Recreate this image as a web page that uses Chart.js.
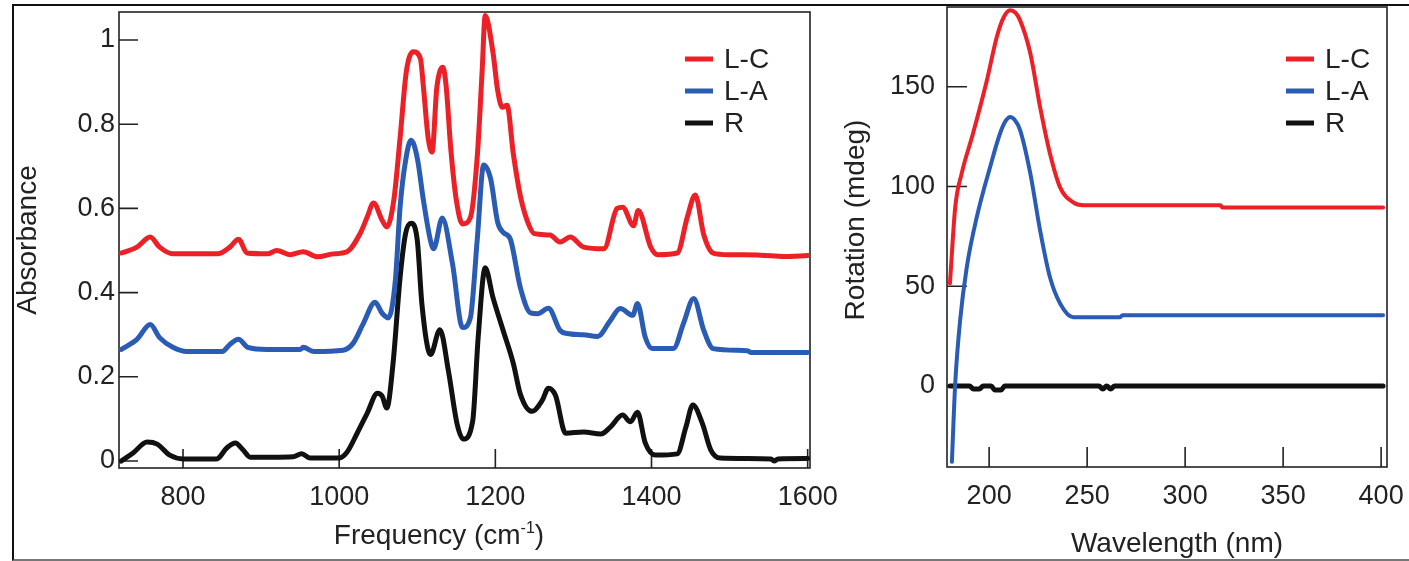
<!DOCTYPE html>
<html>
<head>
<meta charset="utf-8">
<script src="https://cdn.jsdelivr.net/npm/chart.js@4.4.1/dist/chart.umd.min.js"></script>
<style>
  html, body { margin: 0; padding: 0; background: #fff; }
  #page { position: relative; width: 1409px; height: 561px; overflow: hidden; }
  #frame { position: absolute; left: 12px; top: 4px; width: 1395px; height: 553px;
           border-top: 2px solid #111; border-left: 2px solid #111; border-bottom: 2px solid #777; }
  canvas { position: absolute; top: 0; }
  #ftir { left: 0; }
  #cd { left: 820px; }
</style>
</head>
<body>
<div id="page">
  <div id="frame"></div>
  <canvas id="ftir" width="860" height="561"></canvas>
  <canvas id="cd" width="589" height="561"></canvas>
</div>
<script>
// ---- left panel: absorbance spectra ----
const lcFreq = [721, 741, 758, 770, 787, 844, 860, 871, 882, 908, 920, 937, 954, 972, 992, 1010, 1027, 1036, 1044, 1055,
  1061, 1070, 1078, 1086, 1095, 1104, 1108, 1114, 1119, 1125, 1133, 1137, 1143, 1150, 1158, 1168, 1177, 1183, 1187, 1197,
  1203, 1209, 1215, 1223, 1232, 1241, 1250, 1270, 1283, 1296, 1313, 1339, 1356, 1363, 1377, 1383, 1399, 1408, 1433, 1446,
  1456, 1467, 1479, 1500, 1540, 1570, 1600];
const lcAbs = [0.494, 0.508, 0.532, 0.508, 0.492, 0.492, 0.508, 0.527, 0.494, 0.492, 0.5, 0.49, 0.497, 0.485, 0.492, 0.497, 0.541, 0.58, 0.613, 0.572,
  0.556, 0.62, 0.767, 0.925, 0.972, 0.956, 0.886, 0.767, 0.734, 0.886, 0.935, 0.89, 0.74, 0.62, 0.563, 0.578, 0.727, 0.923, 1.058, 0.97,
  0.88, 0.84, 0.845, 0.73, 0.63, 0.57, 0.54, 0.537, 0.52, 0.532, 0.508, 0.504, 0.6, 0.603, 0.559, 0.595, 0.508, 0.49, 0.494, 0.58,
  0.632, 0.537, 0.494, 0.49, 0.489, 0.486, 0.488];

const laFreq = [721, 741, 758, 770, 787, 805, 850, 860, 871, 883, 908, 950, 954, 967, 1005, 1018, 1031, 1046, 1055, 1063,
  1072, 1078, 1085, 1092, 1100, 1108, 1117, 1121, 1132, 1145, 1158, 1168, 1177, 1185, 1194, 1203, 1210, 1219, 1232, 1245,
  1254, 1268, 1283, 1292, 1313, 1331, 1347, 1360, 1376, 1382, 1392, 1401, 1428, 1441, 1454, 1467, 1479, 1523, 1527, 1600];
const laAbs = [0.265, 0.289, 0.324, 0.293, 0.27, 0.26, 0.26, 0.277, 0.289, 0.27, 0.265, 0.265, 0.27, 0.26, 0.263, 0.28, 0.327, 0.377, 0.351, 0.34,
  0.43, 0.603, 0.713, 0.762, 0.72, 0.618, 0.523, 0.504, 0.577, 0.47, 0.317, 0.34, 0.53, 0.703, 0.67, 0.567, 0.543, 0.528, 0.412, 0.352,
  0.35, 0.363, 0.31, 0.303, 0.3, 0.296, 0.333, 0.362, 0.346, 0.374, 0.294, 0.267, 0.267, 0.327, 0.386, 0.31, 0.267, 0.262, 0.258, 0.258];

const rFreq = [721, 736, 754, 767, 783, 800, 843, 856, 867, 877, 886, 915, 941, 952, 963, 999, 1010, 1023, 1036, 1049,
  1055, 1061, 1069, 1078, 1085, 1092, 1100, 1106, 1117, 1129, 1140, 1151, 1159, 1171, 1178, 1187, 1197, 1210, 1223, 1232,
  1247, 1260, 1268, 1277, 1290, 1313, 1335, 1347, 1363, 1373, 1382, 1392, 1405, 1433, 1444, 1453, 1465, 1476, 1488, 1553,
  1557, 1562, 1600];
const rAbs = [0, 0.019, 0.045, 0.04, 0.014, 0.005, 0.005, 0.031, 0.043, 0.026, 0.009, 0.009, 0.01, 0.017, 0.007, 0.007, 0.021, 0.066, 0.114, 0.161,
  0.154, 0.126, 0.232, 0.436, 0.54, 0.565, 0.525, 0.372, 0.253, 0.312, 0.213, 0.088, 0.052, 0.095, 0.293, 0.459, 0.388, 0.31, 0.232, 0.159,
  0.118, 0.144, 0.173, 0.156, 0.066, 0.069, 0.064, 0.08, 0.109, 0.093, 0.116, 0.043, 0.014, 0.017, 0.08, 0.133, 0.09, 0.026, 0.007, 0.005,
  0, 0.005, 0.006];

const freqTicks = [800, 1000, 1200, 1400, 1600];
const absTicks = [0, 0.2, 0.4, 0.6, 0.8, 1];

// ---- right panel: optical rotation ----
const lcWave = [180, 182.7, 186, 191.8, 198.8, 203.9, 207.5, 210.7, 213.5, 215.8, 221, 226, 231, 236.2, 242.9, 248, 318, 319, 401];
const lcRot = [51.5, 89.6, 106.6, 126.7, 153, 175, 185, 188.4, 187, 183.3, 166.8, 139.8, 116.7, 99.6, 92, 90.6, 90.6, 89.5, 89.5];

const laWave = [181, 182.7, 185.2, 188.6, 193.7, 200.5, 205.6, 208.5, 210.7, 213, 215.8, 221, 226, 231, 236.2, 242.9, 266.8, 268, 401];
const laRot = [-38, 1.3, 33, 59.6, 84.7, 109.8, 126.7, 133, 134.9, 133.5, 128.3, 106.6, 78, 54.6, 41.4, 34.5, 34.5, 35.5, 35.5];

const rWave = [180, 190, 192, 195, 197, 201, 203, 206, 208, 256, 258, 260, 262, 264, 401];
const rRot = [0, 0, -1.5, -1.5, 0, 0, -2, -2, 0, 0, -1.5, 0, -1.5, 0, 0];

const waveTicks = [200, 250, 300, 350, 400];
const rotTicks = [0, 50, 100, 150];

const RED = '#ec2027';
const BLUE = '#2a5cb4';
const BLACK = '#111111';
const TEXT = '#222222';
const FONT = '"Liberation Sans", Arial, sans-serif';

function toPoints(xs, ys) {
  return xs.map((x, i) => ({ x: x, y: ys[i] }));
}

// box, inward ticks, legend and axis titles
const panelDecor = {
  id: 'panelDecor',
  beforeDatasetsDraw(chart, args, opts) {
    const { ctx, chartArea: a } = chart;
    const xs = chart.scales.x, ys = chart.scales.y;
    ctx.save();
    ctx.strokeStyle = '#222';
    ctx.lineWidth = 1.6;
    ctx.strokeRect(a.left, a.top, a.right - a.left, a.bottom - a.top);
    ctx.beginPath();
    xs.ticks.forEach(t => {
      const p = xs.getPixelForValue(t.value);
      ctx.moveTo(p, a.bottom);
      ctx.lineTo(p, a.bottom - opts.tickLen);
    });
    ys.ticks.forEach(t => {
      const p = ys.getPixelForValue(t.value);
      ctx.moveTo(a.left, p);
      ctx.lineTo(a.left + opts.tickLen, p);
    });
    ctx.stroke();
    ctx.restore();
  },
  afterDraw(chart, args, opts) {
    const ctx = chart.ctx;
    const mainFont = '28px ' + FONT;
    const supFont = '16px ' + FONT;
    ctx.save();
    ctx.fillStyle = TEXT;
    ctx.font = mainFont;

    // legend
    const lg = opts.legend;
    ctx.textBaseline = 'middle';
    ctx.textAlign = 'left';
    chart.data.datasets.forEach((ds, i) => {
      const y = lg.y + i * lg.step;
      ctx.strokeStyle = ds.borderColor;
      ctx.lineWidth = 5;
      ctx.beginPath();
      ctx.moveTo(lg.x, y);
      ctx.lineTo(lg.x + 28, y);
      ctx.stroke();
      ctx.fillText(ds.label, lg.x + 39, y + 1);
    });

    // x title (with optional superscript part)
    const xt = opts.xTitle;
    ctx.textBaseline = 'alphabetic';
    let total = 0;
    xt.parts.forEach(p => {
      ctx.font = p.sup ? supFont : mainFont;
      total += ctx.measureText(p.text).width;
    });
    let cx = xt.x - total / 2;
    xt.parts.forEach(p => {
      ctx.font = p.sup ? supFont : mainFont;
      ctx.fillText(p.text, cx, p.sup ? xt.y - 11 : xt.y);
      cx += ctx.measureText(p.text).width;
    });

    // y title
    const yt = opts.yTitle;
    ctx.font = mainFont;
    ctx.translate(yt.x, yt.y);
    ctx.rotate(-Math.PI / 2);
    ctx.textAlign = 'center';
    ctx.fillText(yt.text, 0, 0);
    ctx.restore();
  }
};

function axisOpts(min, max, tickValues, padding, size, horizontal) {
  return {
    type: 'linear',
    min: min,
    max: max,
    grid: { display: false, drawTicks: false },
    border: { display: false },
    ticks: {
      color: TEXT,
      font: { family: FONT, size: 27 },
      padding: padding,
      autoSkip: false,
      maxRotation: 0,
      callback: v => String(v)
    },
    afterBuildTicks: s => { s.ticks = tickValues.map(v => ({ value: v })); },
    afterFit: s => {
      if (horizontal) {
        s.height = size;
        s.paddingLeft = 0;
        s.paddingRight = 0;
      } else {
        s.width = size;
        s.paddingTop = 0;
        s.paddingBottom = 0;
      }
    }
  };
}

function lineSet(label, pts, color, width) {
  return {
    label: label,
    data: pts,
    borderColor: color,
    backgroundColor: color,
    borderWidth: width,
    pointRadius: 0,
    cubicInterpolationMode: 'monotone',
    fill: false,
    borderJoinStyle: 'round',
    borderCapStyle: 'round'
  };
}

new Chart(document.getElementById('ftir'), {
  type: 'line',
  data: {
    datasets: [
      lineSet('L-C', toPoints(lcFreq, lcAbs), RED, 5),
      lineSet('L-A', toPoints(laFreq, laAbs), BLUE, 5),
      lineSet('R', toPoints(rFreq, rAbs), BLACK, 5)
    ]
  },
  options: {
    responsive: false,
    animation: false,
    events: [],
    layout: { padding: { top: 12, right: 50, left: 0, bottom: 0 } },
    plugins: {
      legend: { display: false },
      tooltip: { enabled: false },
      panelDecor: {
        tickLen: 19,
        legend: { x: 685, y: 59, step: 32 },
        xTitle: { x: 439, y: 544, parts: [{ text: 'Frequency (cm' }, { text: '-1', sup: true }, { text: ')' }] },
        yTitle: { x: 36, y: 240, text: 'Absorbance' }
      }
    },
    scales: {
      x: axisOpts(718, 1603, freqTicks, 13, 93, true),
      y: axisOpts(-0.0166, 1.0665, absTicks, 4, 119, false)
    }
  },
  plugins: [panelDecor]
});

new Chart(document.getElementById('cd'), {
  type: 'line',
  data: {
    datasets: [
      lineSet('L-C', toPoints(lcWave, lcRot), RED, 4),
      lineSet('L-A', toPoints(laWave, laRot), BLUE, 4),
      lineSet('R', toPoints(rWave, rRot), BLACK, 5)
    ]
  },
  options: {
    responsive: false,
    animation: false,
    events: [],
    layout: { padding: { top: 7, right: 22, left: 0, bottom: 0 } },
    plugins: {
      legend: { display: false },
      tooltip: { enabled: false },
      panelDecor: {
        tickLen: 20,
        legend: { x: 466, y: 59, step: 32 },
        xTitle: { x: 357, y: 552, parts: [{ text: 'Wavelength (nm)' }] },
        yTitle: { x: 44, y: 220, text: 'Rotation (mdeg)' }
      }
    },
    scales: {
      x: axisOpts(178.5, 403, waveTicks, 13, 94, true),
      y: axisOpts(-40.6, 190, rotTicks, 12, 127, false)
    }
  },
  plugins: [panelDecor]
});
</script>
</body>
</html>
